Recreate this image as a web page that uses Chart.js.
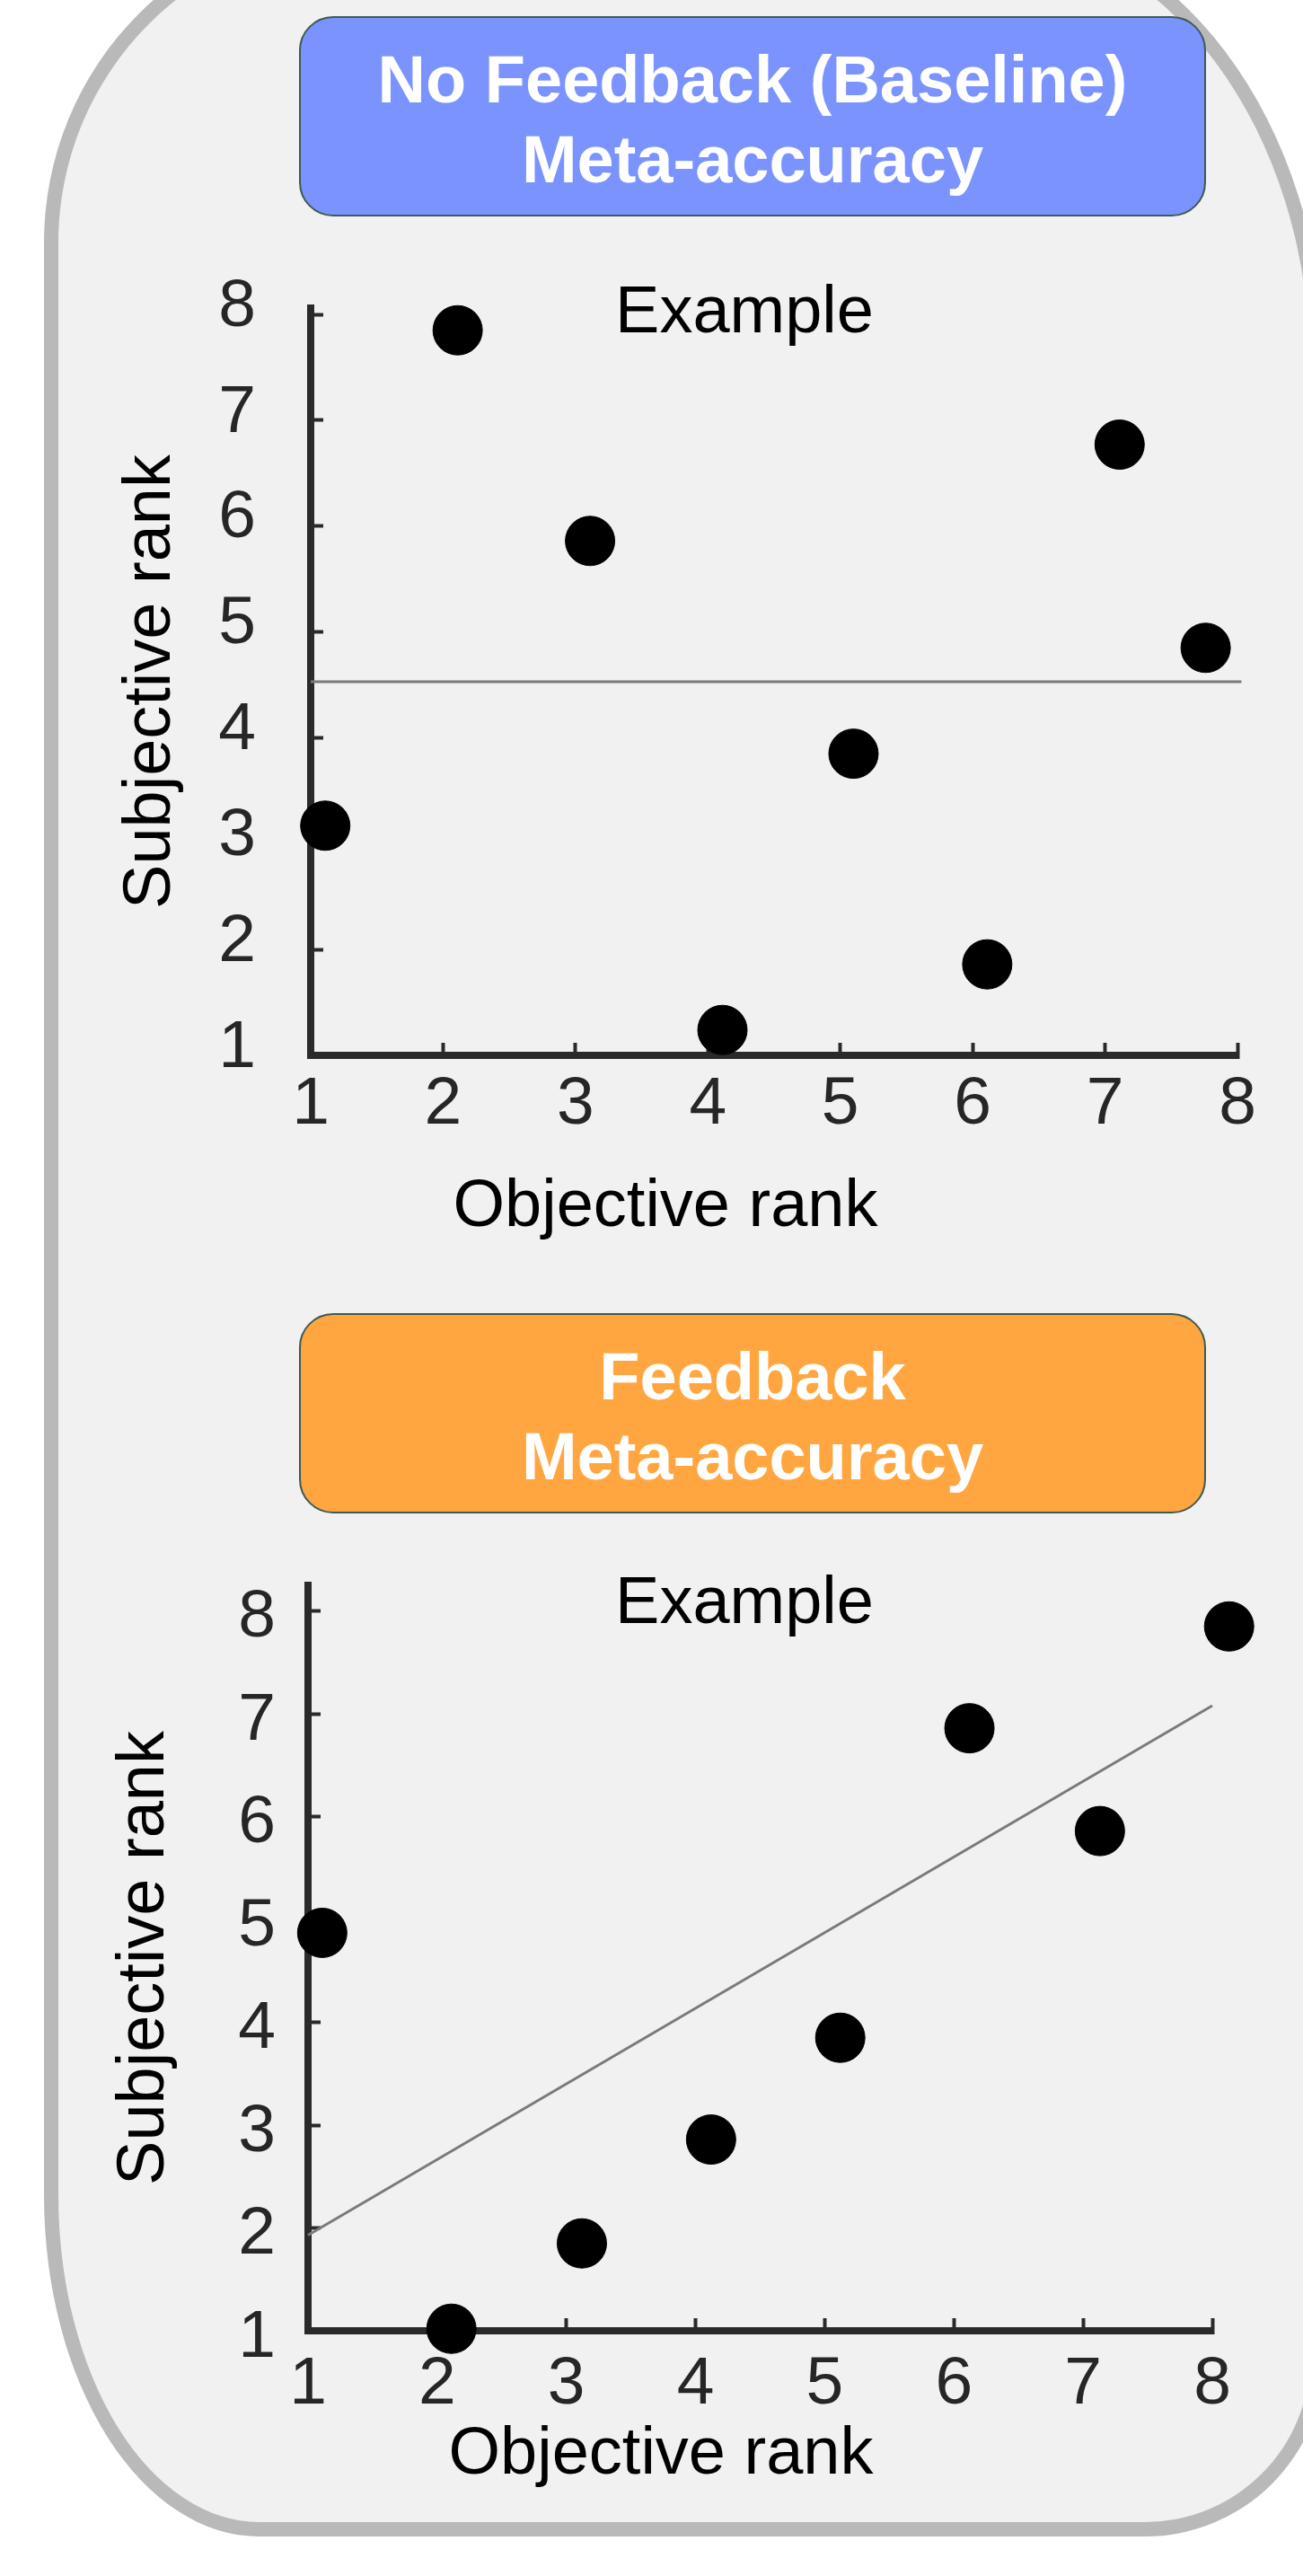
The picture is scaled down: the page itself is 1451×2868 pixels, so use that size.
<!DOCTYPE html>
<html>
<head>
<meta charset="utf-8">
<script src="https://cdn.jsdelivr.net/npm/chart.js@4.4.0/dist/chart.umd.min.js"></script>
<style>
  body {
    margin: 0;
    width: 1451px;
    height: 2868px;
    position: relative;
    overflow: hidden;
    background: #fff;
    font-family: "Liberation Sans", Arial, sans-serif;
  }
  #panel {
    position: absolute;
    left: 49px;
    top: -90px;
    width: 1426px;
    height: 2914px;
    box-sizing: border-box;
    border: 16px solid #b9b9b9;
    background: #f1f1f1;
    border-radius: 360px 380px 200px 240px / 360px 500px 200px 380px;
  }
  .head {
    position: absolute;
    left: 333px;
    width: 1010px;
    height: 223px;
    box-sizing: border-box;
    border: 2px solid #3e5a52;
    border-radius: 38px;
    color: #fff;
    font-weight: bold;
    font-size: 74px;
    line-height: 89px;
    text-align: center;
    display: flex;
    align-items: center;
    justify-content: center;
    padding-top: 6px;
  }
  #head1 { top: 18px; background: #7b93fe; }
  #head2 { top: 1462px; background: #ffa640; }
  .plot { position: absolute; left: 0; }
  #wrap1 { top: 260px; }
  #wrap2 { top: 1700px; }
</style>
</head>
<body>
<div id="panel"></div>
<div class="head" id="head1"><div>No Feedback (Baseline)<br>Meta-accuracy</div></div>
<div class="head" id="head2"><div>Feedback<br>Meta-accuracy</div></div>
<div class="plot" id="wrap1"><canvas id="chart1" width="1451" height="1160"></canvas></div>
<div class="plot" id="wrap2"><canvas id="chart2" width="1451" height="1168"></canvas></div>

<script>
const rankTicks = [1, 2, 3, 4, 5, 6, 7, 8];

// no feedback (baseline)
const baseObjective = [1.11, 2.11, 3.11, 4.11, 5.10, 6.11, 7.11, 7.76];
const baseSubjective = [3.17, 7.85, 5.86, 1.24, 3.85, 1.86, 6.77, 4.85];
const baseFitX = [1, 8.03];
const baseFitY = [4.53, 4.53];

// feedback
const fbObjective = [1.11, 2.11, 3.12, 4.12, 5.12, 6.12, 7.13, 8.13];
const fbSubjective = [4.87, 1.02, 1.85, 2.86, 3.85, 6.86, 5.86, 7.85];
const fbFitX = [1, 8];
const fbFitY = [1.93, 7.08];

const FONT = '"Liberation Sans", Arial, sans-serif';
const AXIS = '#2a2a2a';

// "Example" label and x axis title
const panelText = {
  id: 'panelText',
  afterDraw(chart, args, o) {
    const c = chart.ctx;
    c.save();
    c.fillStyle = '#000';
    c.textAlign = 'center';
    c.textBaseline = 'alphabetic';
    c.font = '74px ' + FONT;
    c.fillText('Example', o.exampleX, o.exampleY);
    c.fillText('Objective rank', o.titleX, o.titleY);
    c.restore();
  }
};

// keep the chart area where the layout padding puts it
function noPad(sc) {
  sc.paddingTop = 0;
  sc.paddingBottom = 0;
  sc.paddingLeft = 0;
  sc.paddingRight = 0;
}

function rankChart(id, xs, ys, fitX, fitY, s) {
  const pts = xs.map((x, i) => ({x: x, y: ys[i]}));
  const fit = fitX.map((x, i) => ({x: x, y: fitY[i]}));
  return new Chart(document.getElementById(id), {
    type: 'scatter',
    data: {
      datasets: [
        {
          data: pts,
          backgroundColor: '#000',
          borderColor: '#000',
          pointRadius: 27.5,
          pointHoverRadius: 27.5,
          clip: false
        },
        {
          type: 'line',
          data: fit,
          borderColor: '#7a7a7a',
          borderWidth: 3,
          pointRadius: 0,
          showLine: true,
          fill: false,
          clip: false
        }
      ]
    },
    options: {
      responsive: false,
      animation: false,
      events: [],
      layout: { padding: { top: s.top, right: s.right, left: 0, bottom: 0 } },
      plugins: {
        legend: { display: false },
        tooltip: { enabled: false },
        panelText: s.text
      },
      scales: {
        x: {
          type: 'linear',
          min: 1,
          max: 8,
          afterBuildTicks: sc => { sc.ticks = rankTicks.map(v => ({value: v})); },
          afterFit: sc => { sc.height = s.xHeight; noPad(sc); },
          ticks: {
            autoSkip: false,
            maxRotation: 0,
            padding: s.xPad,
            color: '#262626',
            font: { family: FONT, size: 75 }
          },
          grid: {
            drawOnChartArea: false,
            drawTicks: true,
            tickLength: -14,
            tickWidth: 4,
            tickColor: AXIS
          },
          border: { display: true, color: AXIS, width: 8 }
        },
        y: {
          type: 'linear',
          min: 1,
          max: s.yMax,
          afterBuildTicks: sc => { sc.ticks = rankTicks.map(v => ({value: v})); },
          afterFit: sc => { sc.width = s.left; noPad(sc); },
          ticks: {
            autoSkip: false,
            padding: s.yPad,
            labelOffset: s.yShift,
            color: '#262626',
            font: { family: FONT, size: 75 }
          },
          grid: {
            drawOnChartArea: false,
            drawTicks: true,
            tickLength: -14,
            tickWidth: 4,
            tickColor: AXIS
          },
          border: { display: true, color: AXIS, width: 8 },
          title: {
            display: true,
            text: 'Subjective rank',
            color: '#000',
            font: { family: FONT, size: 74 },
            padding: { top: s.titlePad, bottom: 0 }
          }
        }
      }
    },
    plugins: [panelText]
  });
}

rankChart('chart1', baseObjective, baseSubjective, baseFitX, baseFitY, {
  top: 83, right: 73, left: 346, xHeight: 245, yMax: 8.06,
  xPad: 24, yPad: 75, yShift: -8, titlePad: 124,
  text: { exampleX: 829, exampleY: 110, titleX: 741, titleY: 1105 }
});

rankChart('chart2', fbObjective, fbSubjective, fbFitX, fbFitY, {
  top: 65, right: 101, left: 343, xHeight: 273, yMax: 8.25,
  xPad: 29, yPad: 50, yShift: 8, titlePad: 117,
  text: { exampleX: 829, exampleY: 107, titleX: 736, titleY: 1054 }
});
</script>
</body>
</html>
